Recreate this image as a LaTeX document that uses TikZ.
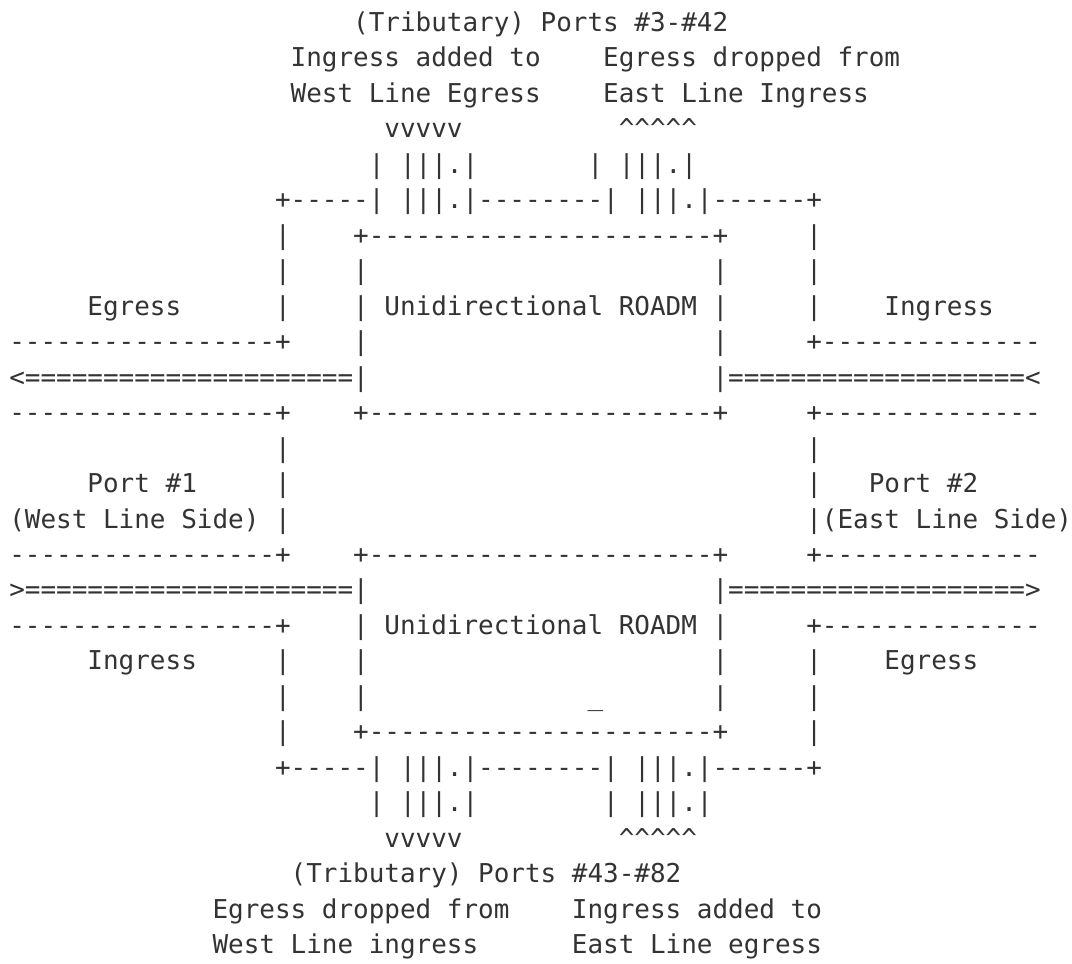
\documentclass[tikz,border=0pt]{standalone}
\usepackage{fontspec}
\newfontfamily\asciifont{DejaVu Sans Mono}[Ligatures=TeXOff]
\usepackage{tikz}
\definecolor{ink}{HTML}{333333}
\newcommand{\crt}{\textasciicircum}
\tikzset{asc/.style={anchor=base west, inner sep=0pt, outer sep=0pt, text=ink,
  font=\asciifont\fontsize{19.46pt}{22pt}\selectfont\frenchspacing}}

\begin{document}
\begin{tikzpicture}[x=11.715pt, y=-26.5875pt]
    \useasboundingbox[fill=white] (-0.5986,-0.8886) rectangle (68,26.277);
    \node[asc] (trtop) at (22,0) {(Tributary) Ports \#3-\#42};
    \node[asc] (addw) at (18,1) {Ingress added to};
    \node[asc] (drpe) at (38,1) {Egress dropped from};
    \node[asc] (addwb) at (18,2) {West Line Egress};
    \node[asc] (drpeb) at (38,2) {East Line Ingress};
    \node[asc] (vtop) at (24,3) {vvvvv};
    \node[asc] (ctop) at (39,3) {\crt\crt\crt\crt\crt};
    \node[asc] (pa) at (23,4) {| |||.|};
    \node[asc] (pb) at (37,4) {| |||.|};
    \node[asc] (outt) at (17,5) {+-----| |||.|--------| |||.|------+};
    \node[asc] (A6) at (17,6) {|};
    \node[asc] (inta) at (22,6) {+----------------------+};
    \node[asc] (D6) at (51,6) {|};
    \node[asc] (A7) at (17,7) {|};
    \node[asc] (B7) at (22,7) {|};
    \node[asc] (C7) at (45,7) {|};
    \node[asc] (D7) at (51,7) {|};
    \node[asc] (egw) at (5,8) {Egress};
    \node[asc] (A8) at (17,8) {|};
    \node[asc] (roa) at (22,8) {| Unidirectional ROADM |};
    \node[asc] (D8) at (51,8) {|};
    \node[asc] (ine) at (56,8) {Ingress};
    \node[asc] (lw9) at (0,9) {-----------------+};
    \node[asc] (B9) at (22,9) {|};
    \node[asc] (C9) at (45,9) {|};
    \node[asc] (le9) at (51,9) {+--------------};
    \node[asc] (wout) at (0,10) {<=====================|};
    \node[asc] (ein) at (45,10) {|===================<};
    \node[asc] (lw11) at (0,11) {-----------------+};
    \node[asc] (intb) at (22,11) {+----------------------+};
    \node[asc] (le11) at (51,11) {+--------------};
    \node[asc] (A12) at (17,12) {|};
    \node[asc] (D12) at (51,12) {|};
    \node[asc] (pw) at (5,13) {Port \#1};
    \node[asc] (A13) at (17,13) {|};
    \node[asc] (D13) at (51,13) {|};
    \node[asc] (pe) at (55,13) {Port \#2};
    \node[asc] (wside) at (0,14) {(West Line Side) |};
    \node[asc] (eside) at (51,14) {|(East Line Side)};
    \node[asc] (lw15) at (0,15) {-----------------+};
    \node[asc] (intc) at (22,15) {+----------------------+};
    \node[asc] (le15) at (51,15) {+--------------};
    \node[asc] (win) at (0,16) {>=====================|};
    \node[asc] (eout) at (45,16) {|===================>};
    \node[asc] (lw17) at (0,17) {-----------------+};
    \node[asc] (rob) at (22,17) {| Unidirectional ROADM |};
    \node[asc] (le17) at (51,17) {+--------------};
    \node[asc] (inw) at (5,18) {Ingress};
    \node[asc] (A18) at (17,18) {|};
    \node[asc] (B18) at (22,18) {|};
    \node[asc] (C18) at (45,18) {|};
    \node[asc] (D18) at (51,18) {|};
    \node[asc] (ege) at (56,18) {Egress};
    \node[asc] (A19) at (17,19) {|};
    \node[asc] (B19) at (22,19) {|};
    \node[asc] (us) at (37,19) {\_};
    \node[asc] (C19) at (45,19) {|};
    \node[asc] (D19) at (51,19) {|};
    \node[asc] (A20) at (17,20) {|};
    \node[asc] (intd) at (22,20) {+----------------------+};
    \node[asc] (D20) at (51,20) {|};
    \node[asc] (outb) at (17,21) {+-----| |||.|--------| |||.|------+};
    \node[asc] (pc) at (23,22) {| |||.|};
    \node[asc] (pd) at (38,22) {| |||.|};
    \node[asc] (vbot) at (24,23) {vvvvv};
    \node[asc] (cbot) at (39,23) {\crt\crt\crt\crt\crt};
    \node[asc] (trbot) at (18,24) {(Tributary) Ports \#43-\#82};
    \node[asc] (drpw) at (13,25) {Egress dropped from};
    \node[asc] (adde) at (36,25) {Ingress added to};
    \node[asc] (drpwb) at (13,26) {West Line ingress};
    \node[asc] (addeb) at (36,26) {East Line egress};
\end{tikzpicture}
\end{document}
